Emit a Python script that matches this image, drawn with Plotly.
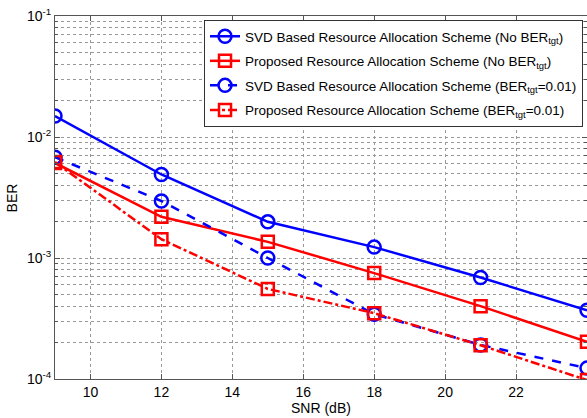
import plotly.graph_objects as go

snr = [9, 12, 15, 18, 21, 24]
svd_no_tgt = [0.0149, 0.0049, 0.00199, 0.00123, 0.00069, 0.00037]
prop_no_tgt = [0.0061, 0.00219, 0.00136, 0.00075, 0.00040, 0.000203]
svd_tgt = [0.0068, 0.00296, 0.00100, 0.000343, 0.000191, 0.000123]
prop_tgt = [0.0062, 0.00143, 0.000555, 0.000350, 0.000190, 0.000098]

names = [
    "SVD Based Resource Allocation Scheme (No BER<sub>tgt</sub>)",
    "Proposed Resource Allocation Scheme (No BER<sub>tgt</sub>)",
    "SVD Based Resource Allocation Scheme (BER<sub>tgt</sub>=0.01)",
    "Proposed Resource Allocation Scheme (BER<sub>tgt</sub>=0.01)",
]
y_tickvals = [1e-4, 1e-3, 1e-2, 1e-1]
y_ticktext = ["10<sup>-4</sup>", "10<sup>-3</sup>", "10<sup>-2</sup>", "10<sup>-1</sup>"]
y_minor_vals = [m * d for d in (1e-4, 1e-3, 1e-2) for m in range(2, 10)]
x_tickvals = [10, 12, 14, 16, 18, 20, 22, 24]

series = [
    (svd_no_tgt, "#0000ff", "solid", "circle-open", 13),
    (prop_no_tgt, "#ff0000", "solid", "square-open", 12),
    (svd_tgt, "#0000ff", "dash", "circle-open", 13),
    (prop_tgt, "#ff0000", "dashdot", "square-open", 12),
]

fig = go.Figure()
for i, ((ys, col, dash, sym, ms), nm) in enumerate(zip(series, names)):
    fig.add_trace(go.Scatter(
        x=snr, y=ys, name=nm, mode="lines+markers", legendgroup=f"g{i}",
        line=dict(color=col, width=2.5, dash=dash),
        marker=dict(symbol=sym, size=ms, color=col, line=dict(width=2.5, color=col)),
    ))

font = "Liberation Sans, Arial, sans-serif"
fig.update_layout(
    width=587, height=418,
    margin=dict(l=55, r=0, t=16, b=39),
    paper_bgcolor="white", plot_bgcolor="white",
    font=dict(family=font, size=14, color="black"),
    showlegend=True,
    legend=dict(
        x=0.9925, y=0.989, xanchor="right", yanchor="top",
        bgcolor="white", bordercolor="#333", borderwidth=1,
        font=dict(family=font, size=13.5, color="black"),
        tracegroupgap=4, itemwidth=30,
    ),
    xaxis=dict(
        range=[9, 24], tickvals=x_tickvals, automargin=False,
        showgrid=True, gridcolor="#999999", griddash="dot", gridwidth=1,
        showline=True, linecolor="#555", linewidth=1, mirror="allticks",
        ticks="inside", ticklen=5, tickcolor="#555",
        zeroline=False,
        tickfont=dict(size=14),
    ),
    yaxis=dict(
        type="log", range=[-4, -1], automargin=False,
        tickvals=y_tickvals, ticktext=y_ticktext,
        showgrid=True, gridcolor="#999999", griddash="dot", gridwidth=1,
        minor=dict(tickvals=y_minor_vals, showgrid=True, gridcolor="#999999",
                   griddash="dot", gridwidth=1,
                   ticks="inside", ticklen=3, tickcolor="#555"),
        showline=True, linecolor="#555", linewidth=1, mirror="allticks",
        ticks="inside", ticklen=5, tickcolor="#555",
        zeroline=False,
        tickfont=dict(size=14),
    ),
    annotations=[
        dict(text="SNR (dB)", xref="paper", yref="paper", x=0.5, y=-0.08,
             xanchor="center", yanchor="middle", showarrow=False,
             font=dict(size=14)),
        dict(text="BER", xref="paper", yref="paper", x=-0.081, y=0.5,
             xanchor="center", yanchor="middle", showarrow=False, textangle=-90,
             font=dict(size=14)),
    ],
)

fig.write_html("out.html", config={"displayModeBar": False},
               post_script="document.body.style.margin='0';")
